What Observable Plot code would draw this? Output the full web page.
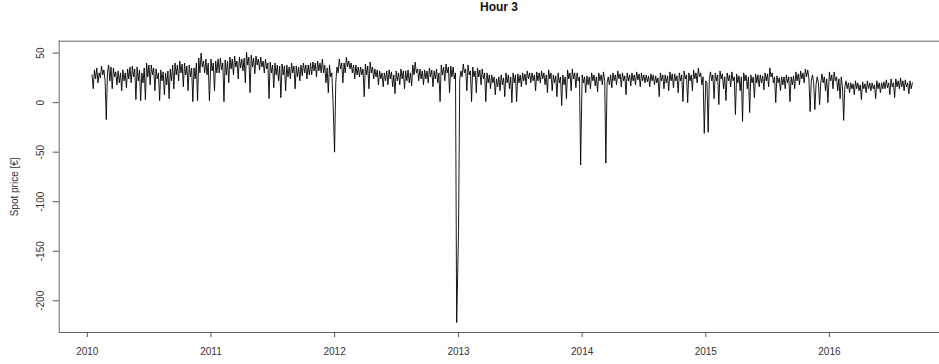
<!DOCTYPE html>
<html>
<head>
<meta charset="utf-8">
<script src="https://cdn.jsdelivr.net/npm/d3@7"></script>
<script src="https://cdn.jsdelivr.net/npm/@observablehq/plot@0.6"></script>
<style>
  html, body { margin: 0; padding: 0; background: #fff; overflow: hidden; }
  #title { box-sizing: border-box; width: 939px; height: 30px; line-height: 32px; padding-left: 59px;
           text-align: center; font: bold 12px "Liberation Sans", Arial, sans-serif; color: #111; overflow: visible; }
</style>
</head>
<body>
<div id="title">Hour 3</div>
<div id="chart"></div>
<script>
// Half-weekly readings (EUR) of the hour-3 spot price
const years = [2010, 2011, 2012, 2013, 2014, 2015, 2016];
const firstHalfWeek = [4, 0, 0, 0, 0, 0, 0];
const price2010 = [28,14,33,24,35,20,30,25,37,28,33,22,-17,30,38,22,36,14,35,26,31,18,32,20,30,12,33,22,30,15,34,24,36,20,37,26,34,3,36,22,33,2,30,20,35,3,40,26,38,18,38,28,35,12,34,24,30,2,33,22,31,8,30,18,32,4,34,22,38,14,40,28,38,22,42,30,39,16,40,28,37,12,38,26,35,1,35,24,40,2,45,30,50,36,42,30,44,28,40,2];
const price2011 = [44,32,40,12,42,30,44,30,45,33,40,1,43,28,42,20,46,34,44,28,47,36,42,24,46,35,44,32,45,20,51,38,46,10,48,36,45,29,47,38,44,33,46,36,42,30,44,34,40,4,41,30,38,15,40,28,38,22,37,5,39,28,37,12,38,26,36,24,40,30,37,14,37,26,36,22,38,27,40,30,38,24,38,28,40,28,41,32,40,26,42,32,40,30,44,30,38,20,35,10,38,26,30,0];
const price2012 = [-50,20,36,30,44,34,40,20,40,30,46,36,42,34,40,30,38,24,38,28,36,26,36,28,34,6,39,28,37,14,41,30,36,24,34,26,33,18,32,24,30,16,30,22,32,18,33,24,31,16,28,9,32,22,30,18,34,24,32,14,32,22,33,20,30,17,38,28,41,30,34,22,34,24,32,18,33,24,32,20,35,26,33,16,32,24,34,20,30,1,38,28,36,22,39,30,36,10,37,26,36,24,30,-222];
const price2013 = [-130,24,32,26,39,30,34,12,38,28,32,1,36,26,32,10,35,26,33,18,34,24,30,1,30,20,28,14,28,20,26,8,24,16,26,12,28,18,25,6,30,20,28,14,26,0,30,20,28,1,29,20,28,16,30,22,29,18,32,24,30,20,30,22,28,12,31,22,30,20,32,24,30,18,28,10,33,24,30,12,28,20,27,6,30,20,26,-3,28,18,26,4,33,24,30,12,34,24,30,15,30,22,26,-63];
const price2014 = [28,20,26,10,27,18,26,14,30,22,28,17,26,11,30,22,28,18,31,22,-61,20,26,18,28,15,30,22,28,18,32,24,29,16,30,22,27,8,30,22,28,17,30,22,28,18,31,23,29,16,30,22,28,20,28,21,27,16,29,22,28,18,27,20,25,6,30,22,28,14,28,20,27,12,31,22,29,15,29,22,27,10,30,22,28,1,32,24,28,0,30,22,28,12,33,24,30,20,35,26,30,18,26,-31];
const price2015 = [22,20,-30,24,31,22,28,4,30,22,28,-2,32,24,29,14,26,2,30,22,28,16,31,22,26,-12,29,20,27,12,26,-19,30,22,28,14,26,-10,28,20,26,5,29,20,28,16,28,20,27,13,30,22,29,16,35,26,30,20,26,0,27,20,25,12,26,18,26,14,28,20,26,1,26,18,27,14,31,22,29,18,32,24,30,20,34,26,33,24,-9,22,28,20,-7,18,26,20,-2,20,29,20,26,12,24,0];
const price2016 = [31,22,28,14,31,22,26,12,24,4,26,16,-18,16,22,14,20,10,20,14,19,8,22,14,20,12,18,3,21,14,19,10,22,14,20,12,20,14,18,4,22,14,20,10,20,14,21,14,23,15,20,8,24,16,20,5,24,16,22,14,25,16,22,12,23,16,20,9,22,14,20];
const yearTickLabels = ["2010","2011","2012","2013","2014","2015","2016"];
const yTicks = [50, 0, -50, -100, -150, -200];
const yLabel = "Spot price [€]";

const series = [price2010, price2011, price2012, price2013, price2014, price2015, price2016];
const DAY = 864e5;
const data = [];
years.forEach((yr, k) => series[k].forEach((v, i) => {
  data.push({date: new Date(Date.UTC(yr, 0, 1) + 3.5 * DAY * (firstHalfWeek[k] + i)), price: v});
}));
const yearTicks = yearTickLabels.map(s => new Date(Date.UTC(+s, 0, 1)));

const xDomain = [new Date(Date.UTC(2009, 9, 10)), new Date(Date.UTC(2016, 10, 21))];
const yDomain = [-232, 62];
const font = '"Liberation Sans", Arial, sans-serif';

const chart = Plot.plot({
  width: 939,
  height: 334,
  marginTop: 10.7,
  marginBottom: 32,
  marginLeft: 58.7,
  marginRight: 0,
  style: {fontFamily: font, fontSize: "10px", color: "#333", background: "#fff", overflow: "hidden"},
  x: {type: "utc", domain: xDomain, label: null},
  y: {domain: yDomain, label: null},
  marks: [
    Plot.ruleX([xDomain[0]], {stroke: "#666"}),
    Plot.ruleY([yDomain[0], yDomain[1]], {stroke: "#666"}),
    Plot.axisX(yearTicks, {tickSize: 5, tickPadding: 10, tickFormat: d => String(d.getUTCFullYear()), fontSize: 10, stroke: "#555", fill: "#333", label: null}),
    Plot.axisY(yTicks, {tickSize: 6, tickFormat: () => "", stroke: "#555", label: null}),
    Plot.text(yTicks, {y: d => d, text: d => String(d), frameAnchor: "left", dx: -18.7, rotate: -90, textAnchor: "middle", lineAnchor: "middle", fontSize: 10, fill: "#333"}),
    Plot.text([yLabel], {frameAnchor: "left", dx: -44, rotate: -90, textAnchor: "middle", lineAnchor: "middle", fontSize: 10, fill: "#333"}),
    Plot.lineY(data, {x: "date", y: "price", stroke: "#000", strokeWidth: 0.9})
  ]
});
document.getElementById("chart").appendChild(chart);
</script>
</body>
</html>
